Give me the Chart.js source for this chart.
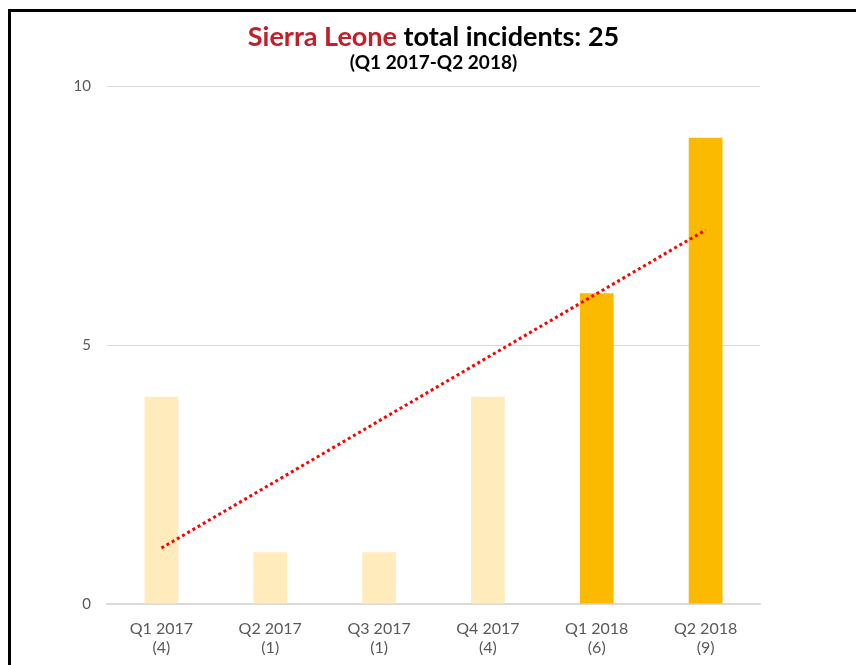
<!DOCTYPE html>
<html>
<head>
<meta charset="utf-8">
<script src="https://cdn.jsdelivr.net/npm/chart.js@4/dist/chart.umd.min.js"></script>
<style>
  html, body { margin: 0; padding: 0; background: #fff; width: 856px; height: 665px; overflow: hidden; }
  #frame { position: absolute; left: 8px; top: 9px; width: 1000px; height: 1000px; border: 3px solid #000; box-sizing: border-box; }
  #wrap { position: absolute; left: 0; top: 0; width: 856px; height: 665px; }
</style>
</head>
<body>
<div id="frame"></div>
<div id="wrap"><canvas id="c" width="856" height="665"></canvas></div>
<script>
const categories = ['Q1 2017', 'Q2 2017', 'Q3 2017', 'Q4 2017', 'Q1 2018', 'Q2 2018'];
const incidents = [4, 1, 1, 4, 6, 9];
const trendEnds = [1.08, null, null, null, null, 7.22];
const yTicks = [0, 5, 10];
const countryName = 'Sierra Leone';
const titleRest = ' total incidents: 25';
const subtitleText = '(Q1 2017-Q2 2018)';

const FONT = 'Lato, "Open Sans", sans-serif';
const LIGHT = '#FFEBBC';
const GOLD = '#FBBA00';

const labels = categories.map((c, i) => [c, '(' + incidents[i] + ')']);
const barColors = categories.map(c => c.indexOf('2018') >= 0 ? GOLD : LIGHT);

const titlePlugin = {
  id: 'mixedTitle',
  afterDraw(chart) {
    const ctx = chart.ctx;
    const cx = (chart.chartArea.left + chart.chartArea.right) / 2;
    ctx.save();
    ctx.textBaseline = 'alphabetic';
    ctx.font = 'bold 27px ' + FONT;
    const w1 = ctx.measureText(countryName).width;
    const w2 = ctx.measureText(titleRest).width;
    let x = cx - (w1 + w2) / 2;
    ctx.textAlign = 'left';
    ctx.fillStyle = '#C0202A';
    ctx.fillText(countryName, x, 46);
    ctx.fillStyle = '#000000';
    ctx.fillText(titleRest, x + w1, 46);
    ctx.font = 'bold 19px ' + FONT;
    ctx.textAlign = 'center';
    ctx.fillText(subtitleText, cx, 69);
    ctx.restore();
  }
};

new Chart(document.getElementById('c'), {
  data: {
    labels: labels,
    datasets: [
      {
        type: 'line',
        data: trendEnds,
        spanGaps: true,
        borderColor: '#FF0000',
        borderWidth: 3,
        borderDash: [3, 3],
        pointRadius: 0,
        fill: false,
        order: 0
      },
      {
        type: 'bar',
        data: incidents,
        backgroundColor: barColors,
        barPercentage: 0.31,
        categoryPercentage: 1.0,
        order: 1
      }
    ]
  },
  options: {
    responsive: false,
    animation: false,
    layout: { padding: { top: 86, right: 96, bottom: 0, left: 0 } },
    plugins: { legend: { display: false }, tooltip: { enabled: false }, title: { display: false } },
    scales: {
      x: {
        grid: { display: false, drawTicks: false },
        border: { display: true, color: '#D9D9D9', width: 1.5 },
        ticks: { color: '#595959', font: { family: FONT, size: 16 }, padding: 15 },
        afterFit(s) { s.height = 61; }
      },
      y: {
        min: 0, max: 10,
        afterBuildTicks(s) { s.ticks = yTicks.map(v => ({ value: v })); },
        grid: { color: '#D9D9D9', lineWidth: 1, drawTicks: false },
        border: { display: false },
        ticks: { color: '#595959', font: { family: FONT, size: 15 }, padding: 16 },
        afterFit(s) { s.width = 107; }
      }
    }
  },
  plugins: [titlePlugin]
});
</script>
</body>
</html>
